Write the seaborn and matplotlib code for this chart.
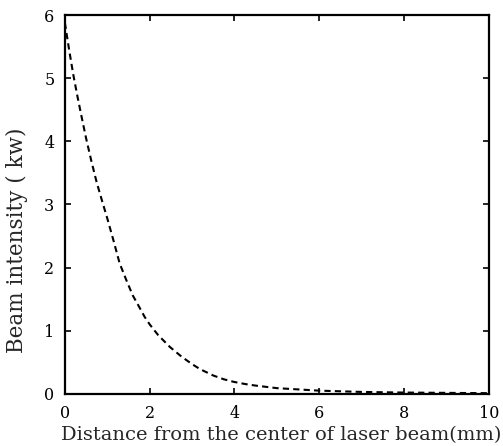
import matplotlib
matplotlib.use("Agg")
import matplotlib.pyplot as plt
import seaborn as sns
import pandas as pd

distance_mm = [0, 0.1, 0.2, 0.3, 0.4, 0.5, 0.62, 0.75, 0.88, 1.0, 1.15, 1.29, 1.45, 1.6, 1.75, 1.88, 2.0, 2.2, 2.48, 2.75, 3.0, 3.19, 3.5, 3.75, 3.98, 4.25, 4.5, 5.0, 5.5, 6.0, 6.5, 7.0, 8.0, 9.0, 10.0]
intensity_kw = [5.88, 5.45, 5.05, 4.7, 4.37, 4.05, 3.7, 3.35, 3.05, 2.78, 2.42, 2.07, 1.8, 1.56, 1.38, 1.22, 1.1, 0.93, 0.74, 0.59, 0.47, 0.39, 0.29, 0.23, 0.19, 0.155, 0.13, 0.09, 0.07, 0.05, 0.04, 0.03, 0.02, 0.015, 0.01]

x_ticks = [0, 2, 4, 6, 8, 10]
y_ticks = [0, 1, 2, 3, 4, 5, 6]

sns.set_style("ticks")
plt.rcParams['font.family'] = ['DejaVu Serif']

df = pd.DataFrame({"Distance": distance_mm, "Intensity": intensity_kw})

fig = plt.figure(figsize=(5.03, 4.46), dpi=100)
ax = fig.add_axes([0.129, 0.117, 0.843, 0.849])
sns.lineplot(data=df, x="Distance", y="Intensity", ax=ax, color="black",
             linestyle=(0, (3.0, 2.0)), linewidth=1.5)

ax.set_xlim(0, 10)
ax.set_ylim(0, 6)
ax.set_xticks(x_ticks)
ax.set_yticks(y_ticks)
ax.set_xticklabels([str(t) for t in x_ticks])
ax.set_yticklabels([str(t) for t in y_ticks])
ax.tick_params(direction="in", top=True, right=True, length=4, width=1.2,
               labelsize=11.5, colors="black")
ax.tick_params(axis="x", pad=8)
ax.tick_params(axis="y", pad=7.5)
for s in ax.spines.values():
    s.set_visible(True)
    s.set_linewidth(1.6)
    s.set_color("black")

ax.set_xlabel("Distance from the center of laser beam(mm)", fontsize=14)
ax.xaxis.set_label_coords(0.51, -0.086)
ax.set_ylabel("Beam intensity ( kw)", fontsize=15.5)
ax.yaxis.set_label_coords(-0.088, 0.406)

fig.savefig("out.png", dpi=100, facecolor="white")
